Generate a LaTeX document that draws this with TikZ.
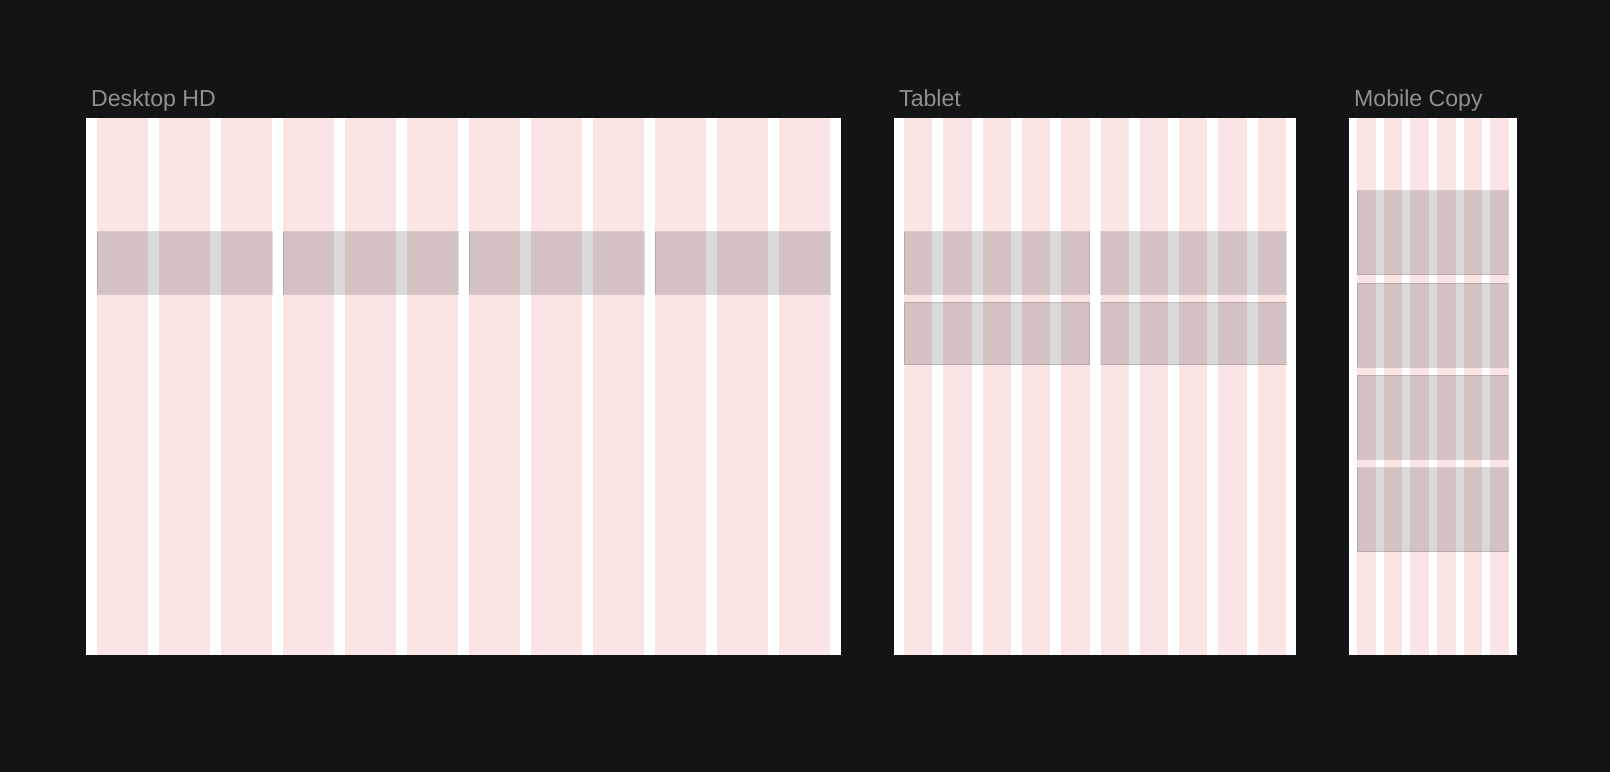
\documentclass[tikz,border=0pt]{standalone}
\usepackage{fontspec}
\setmainfont{Liberation Sans}
\usepackage{tikz}
\definecolor{bgdark}{HTML}{131416}
\definecolor{colpink}{HTML}{FAE5E4}
\definecolor{labelgray}{HTML}{909090}

\begin{document}
\begin{tikzpicture}[x=1bp,y=-1bp,
    frame/.style={fill=white},
    column/.style={fill=colpink},
    card/.style={fill=black,fill opacity=0.15,draw=black,draw opacity=0.13,line width=1bp},
    title/.style={text=labelgray,font=\fontsize{23.2}{27}\selectfont,anchor=base west,inner sep=0pt}]
    \fill[bgdark] (0,0) rectangle (1610,772);
    \useasboundingbox (0,0) rectangle (1610,772);
    % Desktop HD
    \fill[frame] (86,118) rectangle (841,655);
    \foreach \i in {0,...,11}
        \fill[column] ({97+62*\i},118) rectangle ({148+62*\i},655);
    \foreach \i in {0,...,3}
        \filldraw[card] ({97+186*\i},231.5) rectangle ({272+186*\i},294);
    \node[title] (desktop) at (91,106) {Desktop HD};
    % Tablet
    \fill[frame] (894,118) rectangle (1296,655);
    \foreach \i in {0,...,9}
        \fill[column] ({904+39.3*\i},118) rectangle ({932.3+39.3*\i},655);
    \foreach \j in {0,1}
        \foreach \i in {0,1}
            \filldraw[card] ({904+196.5*\i},{231.5+70.5*\j}) rectangle ({1089.5+196.5*\i},{294+70.5*\j});
    \node[title] (tablet) at (899,106) {Tablet};
    % Mobile Copy
    \fill[frame] (1349,118) rectangle (1517,655);
    \foreach \i in {0,...,5}
        \fill[column] ({1357+26.67*\i},118) rectangle ({1375.67+26.67*\i},655);
    \foreach \i in {0,...,3}
        \filldraw[card] (1357,{190.7+92.3*\i}) rectangle (1508,{274.7+92.3*\i});
    \node[title] (mobile) at (1354,106) {Mobile Copy};
\end{tikzpicture}
\end{document}
